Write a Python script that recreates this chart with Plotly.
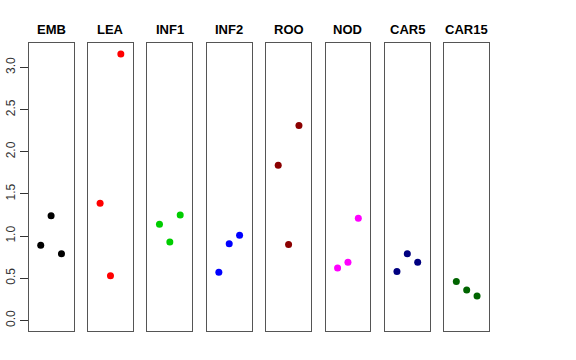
import plotly.graph_objects as go

categories = ["EMB", "LEA", "INF1", "INF2", "ROO", "NOD", "CAR5", "CAR15"]
colors = ["#000000", "#FF0000", "#00CD00", "#0000FF", "#8B0000", "#FF00FF", "#000080", "#006400"]
EMB = [0.89, 1.24, 0.79]
LEA = [1.39, 0.53, 3.16]
INF1 = [1.14, 0.93, 1.25]
INF2 = [0.57, 0.91, 1.01]
ROO = [1.84, 0.90, 2.31]
NOD = [0.62, 0.69, 1.21]
CAR5 = [0.58, 0.79, 0.69]
CAR15 = [0.46, 0.36, 0.29]
series = [EMB, LEA, INF1, INF2, ROO, NOD, CAR5, CAR15]
xpos = [1, 2, 3]
ytickvals = [0.0, 0.5, 1.0, 1.5, 2.0, 2.5, 3.0]
yticktext = ["0.0", "0.5", "1.0", "1.5", "2.0", "2.5", "3.0"]

W, H = 576, 360
left0, pitch, pw = 28.7, 59.37, 44.8
top, bottom = 43, 331

fig = go.Figure()
layout = dict(width=W, height=H, margin=dict(l=0, r=0, t=0, b=0, autoexpand=False),
              paper_bgcolor="white", plot_bgcolor="white", showlegend=False,
              font=dict(family="Liberation Sans, Arial, sans-serif", color="black"))
annotations = []
for i, (name, vals, col) in enumerate(zip(categories, series, colors)):
    n = "" if i == 0 else str(i + 1)
    x0 = (left0 + i * pitch) / W
    x1 = (left0 + i * pitch + pw) / W
    fig.add_trace(go.Scatter(x=xpos, y=vals, mode="markers",
                             marker=dict(color=col, size=7),
                             xaxis="x" + n, yaxis="y" + n))
    layout["xaxis" + n] = dict(domain=[x0, x1], range=[-0.16, 4.16], showticklabels=False,
                               ticks="", showgrid=False, zeroline=False, automargin=False,
                               showline=True, mirror=True, linecolor="#555555", linewidth=1,
                               anchor="y" + n)
    yax = dict(domain=[1 - bottom / H, 1 - top / H], range=[-0.126, 3.29], showgrid=False,
               zeroline=False, showline=True, mirror=True, linecolor="#555555", linewidth=1,
               anchor="x" + n, automargin=False)
    if i == 0:
        yax.update(tickvals=ytickvals, ticktext=yticktext, ticks="outside", ticklen=8,
                   tickcolor="#333333", tickangle=-90, tickfont=dict(size=12, color="#333333"))
    else:
        yax.update(showticklabels=False, ticks="")
    layout["yaxis" + n] = yax
    annotations.append(dict(text="<b>%s</b>" % name, x=(x0 + x1) / 2, y=1 - 29.5 / H,
                            xref="paper", yref="paper", showarrow=False,
                            font=dict(size=13, color="black"), xanchor="center", yanchor="middle"))
layout["annotations"] = annotations
fig.update_layout(**layout)
fig.write_html("out.html", config={"displayModeBar": False},
               post_script="document.body.style.margin='0';")
